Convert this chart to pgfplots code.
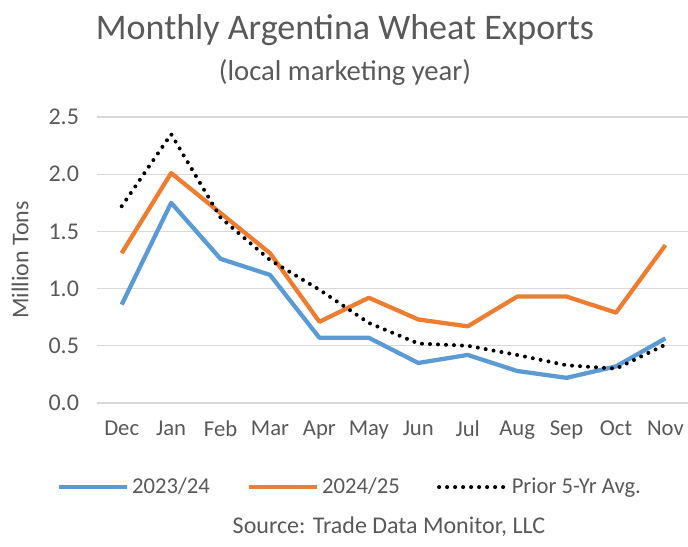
\documentclass[border=0pt]{standalone}
\usepackage{pgfplots}
\pgfplotsset{compat=1.18}
\usepackage{fontspec}
\setmainfont{Carlito}
\definecolor{cblue}{HTML}{5B9BD5}
\definecolor{corange}{HTML}{ED7D31}
\definecolor{tgrey}{HTML}{595959}
\definecolor{ggrey}{HTML}{D9D9D9}
\begin{document}
\begin{tikzpicture}
\begin{axis}[
  at={(0pt,0pt)}, anchor=south west,
  scale only axis, width=443pt, height=214.5pt,
  xmin=-0.5, xmax=11.45, ymin=0, ymax=2.5,
  xtick={0,...,11},
  xticklabels={Dec,Jan,Feb,Mar,Apr,May,Jun,Jul,Aug,Sep,Oct,Nov},
  ytick={0,0.5,1,1.5,2,2.5},
  yticklabel style={/pgf/number format/fixed,/pgf/number format/fixed zerofill,/pgf/number format/precision=1, font=\fontsize{18}{21}\selectfont},
  /pgf/number format/assume math mode=true,
  ymajorgrids, grid style={ggrey, line width=1pt},
  axis line style={draw=none}, major tick length=0pt,
  tick label style={text=tgrey},
  xticklabel style={font=\fontsize{17}{20}\selectfont},
  xticklabel shift=10pt,
  yticklabel shift=10pt,
  ylabel={Million Tons}, ylabel style={font=\fontsize{18}{21}\selectfont, text=tgrey},
  ylabel style={at={(axis description cs:-0.130,0.5)}, anchor=center},
  legend columns=3,
  legend style={draw=none, at={(axis description cs:0.429,-0.294)}, anchor=center, font=\fontsize{17}{20}\selectfont, text=tgrey,
    /tikz/every even column/.append style={column sep=26pt}},
  legend image code/.code={\draw[#1] (0pt,0pt) -- (51pt,0pt);},
]
\addplot[cblue, line width=3.2pt, line join=round] coordinates {
(0,0.86) (1,1.75) (2,1.26) (3,1.12) (4,0.57) (5,0.57) (6,0.35) (7,0.42) (8,0.28) (9,0.22) (10,0.32) (11,0.565)};
\addlegendentry{2023/24}
\addplot[corange, line width=3.2pt, line join=round] coordinates {
(0,1.31) (1,2.01) (2,1.66) (3,1.31) (4,0.71) (5,0.92) (6,0.73) (7,0.67) (8,0.93) (9,0.93) (10,0.79) (11,1.38)};
\addlegendentry{2024/25}
\addplot[black, line width=3pt, line cap=round, dash pattern=on 0pt off 6pt] coordinates {
(0,1.72) (1,2.35) (2,1.62) (3,1.25) (4,0.99) (5,0.70) (6,0.52) (7,0.50) (8,0.42) (9,0.33) (10,0.30) (11,0.51)};
\addlegendentry{Prior 5-Yr Avg.}
\end{axis}
\node[text=tgrey, font=\fontsize{27}{32}\selectfont] at (186pt,279.75pt) {Monthly Argentina Wheat Exports};
\node[text=tgrey, font=\fontsize{21.5}{25}\selectfont] at (186pt,248.25pt) {(local marketing year)};
\node[text=tgrey, font=\fontsize{18}{21}\selectfont] at (219pt,-93pt) {Source: Trade Data Monitor, LLC};
\pgfresetboundingbox
\path[use as bounding box] (-72.75pt,-107.25pt) rectangle (443.25pt,302.25pt);
\end{tikzpicture}
\end{document}
